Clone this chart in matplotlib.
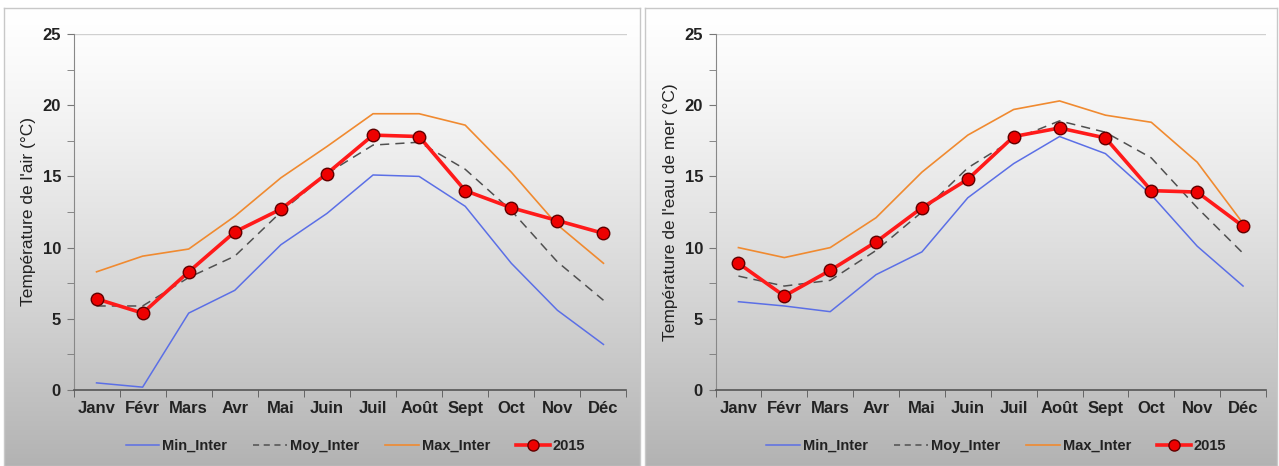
import matplotlib.pyplot as plt
import numpy as np
from matplotlib.lines import Line2D

plt.rcParams['font.family'] = ['Liberation Sans', 'DejaVu Sans']

mois = ['Janv', 'Févr', 'Mars', 'Avr', 'Mai', 'Juin', 'Juil', 'Août', 'Sept', 'Oct', 'Nov', 'Déc']

# température de l'air
air_min = [0.5, 0.2, 5.4, 7.0, 10.2, 12.4, 15.1, 15.0, 12.9, 8.9, 5.6, 3.2]
air_moy = [5.9, 5.9, 7.9, 9.4, 12.5, 15.2, 17.2, 17.4, 15.5, 12.6, 9.0, 6.3]
air_max = [8.3, 9.4, 9.9, 12.2, 14.9, 17.1, 19.4, 19.4, 18.6, 15.3, 11.6, 8.9]
air_2015 = [6.4, 5.4, 8.3, 11.1, 12.7, 15.2, 17.9, 17.8, 14.0, 12.8, 11.9, 11.0]

# température de l'eau de mer
mer_min = [6.2, 5.9, 5.5, 8.1, 9.7, 13.5, 15.9, 17.8, 16.6, 13.7, 10.1, 7.3]
mer_moy = [8.0, 7.3, 7.7, 9.8, 12.5, 15.6, 17.6, 18.9, 18.1, 16.3, 12.8, 9.6]
mer_max = [10.0, 9.3, 10.0, 12.1, 15.3, 17.9, 19.7, 20.3, 19.3, 18.8, 16.0, 11.7]
mer_2015 = [8.9, 6.6, 8.4, 10.4, 12.8, 14.8, 17.8, 18.4, 17.7, 14.0, 13.9, 11.5]

W, H = 1279, 466
fig = plt.figure(figsize=(W / 100, H / 100), dpi=100)
fig.patch.set_facecolor('white')

# fond dégradé de chaque panneau
grad = np.linspace(0, 1, 256).reshape(-1, 1)
for x0, x1 in [(4, 640), (645, 1277)]:
    bg = fig.add_axes([x0 / W, 0, (x1 - x0) / W, 1 - 8 / H], zorder=0)
    g = np.clip(1.0 - 0.30 * grad ** 1.3, 0, 1)
    bg.imshow(np.dstack([g, g, g]), aspect='auto', extent=[0, 1, 0, 1],
              origin='upper', interpolation='bilinear')
    bg.set_xticks([])
    bg.set_yticks([])
    for s in bg.spines.values():
        s.set_color('#c8c8c8')
        s.set_linewidth(1.0)


def trace(ax, vmin, vmoy, vmax, v2015, ylabel):
    x = np.arange(len(mois))
    ax.plot(x, vmin, color='#5b6fe6', lw=1.1, label='Min_Inter')
    ax.plot(x, vmoy, color='#505050', lw=1.1, ls=(0, (6, 4)), label='Moy_Inter')
    ax.plot(x, vmax, color='#f08a30', lw=1.2, label='Max_Inter')
    ax.plot(x, v2015, color='#ff1a1a', lw=2.6, marker='o', ms=9,
            mfc='#ee0000', mec='#600000', mew=1.0, label='2015')

    ax.set_xlim(-0.5, 11.5)
    ax.set_ylim(0, 25)
    ax.set_yticks([0, 5, 10, 15, 20, 25])
    ax.set_yticks(np.arange(2.5, 25, 5), minor=True)
    ax.set_xticks(x)
    ax.set_xticklabels(mois, fontsize=12, fontweight='bold', color='#222222')
    ax.set_xticks(np.arange(-0.5, 12, 1), minor=True)
    ax.tick_params(axis='x', which='major', length=0, pad=8)
    ax.tick_params(axis='x', which='minor', length=5, color='#555555', direction='out')
    ax.tick_params(axis='y', which='both', length=5, color='#777777', direction='out',
                   labelsize=12, pad=4)
    for lab in ax.get_yticklabels():
        lab.set_fontweight('bold')
        lab.set_color('#222222')
    ax.set_ylabel(ylabel, fontsize=12.5, color='#222222', labelpad=5)

    ax.axhline(25, color='#d0d0d0', lw=1.0, zorder=0)
    ax.spines['top'].set_visible(False)
    ax.spines['right'].set_visible(False)
    ax.spines['left'].set_color('#888888')
    ax.spines['bottom'].set_color('#555555')
    ax.spines['bottom'].set_linewidth(1.2)
    ax.patch.set_alpha(0)

    handles = [
        Line2D([], [], color='#5b6fe6', lw=1.1),
        Line2D([], [], color='#505050', lw=1.1, ls=(0, (4, 3))),
        Line2D([], [], color='#f08a30', lw=1.2),
        Line2D([], [], color='#ff1a1a', lw=2.6, marker='o', ms=8,
               mfc='#ee0000', mec='#600000', mew=1.0),
    ]
    leg = ax.legend(handles, ['Min_Inter', 'Moy_Inter', 'Max_Inter', '2015'],
                    loc='center', bbox_to_anchor=(0.51, -0.157), ncol=4,
                    frameon=False, fontsize=10.5, handlelength=2.3,
                    handletextpad=0.2, columnspacing=1.8)
    for t in leg.get_texts():
        t.set_fontweight('bold')
        t.set_color('#222222')


ax1 = fig.add_axes([73.5 / W, 1 - 390 / H, (626.5 - 73.5) / W, 356 / H], zorder=2)
trace(ax1, air_min, air_moy, air_max, air_2015, "Température de l'air (°C)")

ax2 = fig.add_axes([715.5 / W, 1 - 390 / H, (1266 - 715.5) / W, 356 / H], zorder=2)
trace(ax2, mer_min, mer_moy, mer_max, mer_2015, "Température de l'eau de mer (°C)")

fig.savefig('out.png', dpi=100)
